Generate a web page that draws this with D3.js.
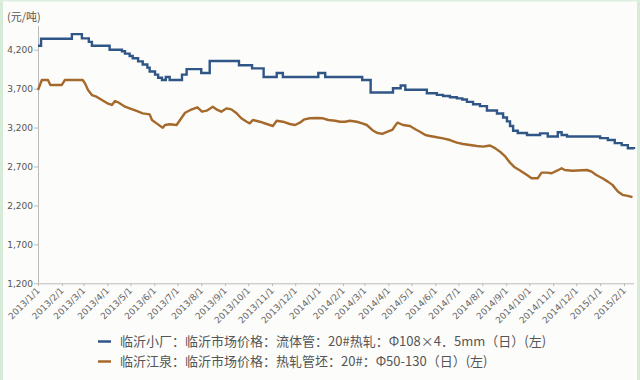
<!DOCTYPE html>
<html><head><meta charset="utf-8">
<script src="https://cdn.jsdelivr.net/npm/d3@7"></script>
<style>
html,body{margin:0;padding:0;background:#fff;}
svg{display:block;}
</style></head>
<body><svg id="c" width="640" height="380"></svg>
<script>
const unitLabel = "(元/吨)";
const yTicks = [1200, 1700, 2200, 2700, 3200, 3700, 4200];
const xTickDates = ["2013-01-01","2013-02-01","2013-03-01","2013-04-01","2013-05-01","2013-06-01","2013-07-01","2013-08-01","2013-09-01","2013-10-01","2013-11-01","2013-12-01","2014-01-01","2014-02-01","2014-03-01","2014-04-01","2014-05-01","2014-06-01","2014-07-01","2014-08-01","2014-09-01","2014-10-01","2014-11-01","2014-12-01","2015-01-01","2015-02-01"];
const seriesNames = ["临沂小厂：临沂市场价格：流体管：20#热轧：Φ108×4．5mm（日）(左)", "临沂江泉：临沂市场价格：热轧管坯：20#：Φ50-130（日）(左)"];

// Series 1 (blue, stepped)
const blueDates = ["2013-01-01","2013-01-05","2013-02-14","2013-02-27","2013-03-08","2013-03-12","2013-04-04","2013-04-20","2013-04-24","2013-04-30","2013-05-04","2013-05-11","2013-05-17","2013-05-23","2013-05-26","2013-06-02","2013-06-06","2013-06-11","2013-06-16","2013-06-21","2013-07-07","2013-07-13","2013-08-01","2013-08-12","2013-09-19","2013-10-06","2013-10-21","2013-11-07","2013-11-15","2013-12-31","2014-01-09","2014-02-26","2014-03-09","2014-04-07","2014-04-17","2014-04-23","2014-05-21","2014-06-03","2014-06-11","2014-06-20","2014-06-29","2014-07-06","2014-07-12","2014-07-20","2014-07-29","2014-08-07","2014-08-20","2014-08-28","2014-09-02","2014-09-06","2014-09-10","2014-09-16","2014-09-28","2014-10-15","2014-10-25","2014-11-07","2014-11-12","2014-11-19","2015-01-01","2015-01-11","2015-01-20","2015-01-29","2015-02-06","2015-02-14"];
const blueValues = [4250,4340,4400,4345,4300,4250,4200,4180,4150,4120,4090,4050,4010,3970,3920,3880,3840,3810,3850,3810,3880,3950,3900,4055,4000,3960,3850,3900,3850,3900,3850,3810,3650,3705,3740,3685,3640,3620,3605,3590,3575,3560,3530,3500,3475,3420,3380,3330,3280,3220,3160,3130,3105,3125,3085,3140,3105,3085,3065,3040,3000,2975,2935,2925];

// Series 2 (orange)
const orangeDates = ["2013-01-01","2013-01-06","2013-01-14","2013-01-17","2013-02-01","2013-02-05","2013-02-28","2013-03-03","2013-03-07","2013-03-12","2013-03-18","2013-03-25","2013-04-01","2013-04-07","2013-04-11","2013-04-15","2013-04-24","2013-04-30","2013-05-09","2013-05-17","2013-05-26","2013-05-29","2013-06-04","2013-06-12","2013-06-15","2013-06-21","2013-06-30","2013-07-04","2013-07-11","2013-07-18","2013-07-27","2013-08-02","2013-08-08","2013-08-16","2013-08-22","2013-08-27","2013-09-03","2013-09-09","2013-09-16","2013-09-22","2013-09-29","2013-10-03","2013-10-07","2013-10-16","2013-10-25","2013-11-02","2013-11-07","2013-11-15","2013-11-24","2013-12-01","2013-12-07","2013-12-13","2013-12-20","2013-12-29","2014-01-06","2014-01-13","2014-01-22","2014-01-28","2014-02-04","2014-02-10","2014-02-19","2014-02-26","2014-03-04","2014-03-11","2014-03-17","2014-03-24","2014-03-31","2014-04-06","2014-04-12","2014-04-13","2014-04-20","2014-04-29","2014-05-06","2014-05-12","2014-05-19","2014-05-25","2014-06-03","2014-06-11","2014-06-20","2014-06-29","2014-07-07","2014-07-16","2014-07-25","2014-08-02","2014-08-11","2014-08-18","2014-08-24","2014-08-31","2014-09-06","2014-09-12","2014-09-18","2014-09-28","2014-10-04","2014-10-12","2014-10-17","2014-10-24","2014-10-30","2014-11-06","2014-11-12","2014-11-16","2014-11-26","2014-12-15","2014-12-21","2014-12-27","2015-01-04","2015-01-11","2015-01-17","2015-01-24","2015-01-30","2015-02-06","2015-02-12"];
const orangeValues = [3683,3811,3811,3747,3747,3811,3811,3769,3683,3618,3597,3554,3512,3490,3541,3525,3468,3447,3413,3383,3370,3297,3254,3198,3233,3242,3233,3290,3390,3426,3460,3404,3417,3468,3426,3404,3447,3434,3383,3319,3275,3254,3297,3275,3246,3220,3288,3275,3246,3233,3263,3306,3319,3323,3319,3297,3288,3275,3275,3288,3275,3254,3233,3169,3134,3118,3147,3169,3254,3263,3233,3220,3178,3147,3105,3092,3075,3062,3040,3006,2989,2976,2963,2955,2970,2933,2890,2826,2749,2690,2655,2591,2549,2549,2621,2621,2613,2646,2677,2655,2646,2655,2634,2591,2549,2506,2464,2378,2336,2323,2306];

const colors = ["#2f5687", "#a5692b"];

const parse = d3.utcParse("%Y-%m-%d");
const svg = d3.select("#c");
const W = 640, H = 380;

// background + frame
svg.append("rect").attr("x",0).attr("y",0).attr("width",W).attr("height",H).attr("fill","#fcfcfa");
svg.append("rect").attr("x",0).attr("y",0).attr("width",3).attr("height",H).attr("fill","#d6ecd9");
svg.append("rect").attr("x",637).attr("y",0).attr("width",3).attr("height",H).attr("fill","#d6ecd9");
svg.append("rect").attr("x",0).attr("y",0).attr("width",W).attr("height",1.5).attr("fill","#dcefe0");

const x = d3.scaleUtc().domain([parse("2013-01-01"), parse("2015-02-01")]).range([38, 624]);
const y = d3.scaleLinear().domain([1200, 4200]).range([283.3, 49.7]);

const tickFont = "DejaVu Sans, Verdana, sans-serif";

// Y axis
const yAxis = d3.axisLeft(y).tickValues(yTicks).tickSize(4).tickFormat(d3.format(","));
const gy = svg.append("g").attr("transform","translate(38,0)").call(yAxis);
gy.select(".domain").remove();
gy.selectAll(".tick line").attr("stroke","#bbb");
gy.selectAll(".tick text").attr("font-family",tickFont).attr("font-size",9).attr("fill","#555").attr("x",-5);
svg.append("line").attr("x1",38.5).attr("x2",38.5).attr("y1",26).attr("y2",283.3).attr("stroke","#bbb");

// X axis
const xAxis = d3.axisBottom(x).tickValues(xTickDates.map(parse)).tickSize(3)
  .tickFormat(d3.utcFormat("%Y/%-m/%-d"));
const gx = svg.append("g").attr("transform","translate(0,283.3)").call(xAxis);
gx.select(".domain").remove();
svg.append("line").attr("x1",38).attr("x2",634).attr("y1",283.8).attr("y2",283.8).attr("stroke","#bbb");
gx.selectAll(".tick line").attr("stroke","#bbb");
gx.selectAll(".tick text").attr("font-family",tickFont).attr("font-size",9).attr("fill","#666")
  .attr("text-anchor","end").attr("dy",0).attr("y",0)
  .attr("transform","translate(2,8) rotate(-45)");

// unit label
svg.append("text").attr("x",7).attr("y",21).attr("font-family","Noto Sans CJK SC, sans-serif")
  .attr("font-size",11).attr("fill","#555").text(unitLabel);

// lines
const blue = blueDates.map((d,i)=>({d:parse(d), v:blueValues[i]}));
const orange = orangeDates.map((d,i)=>({d:parse(d), v:orangeValues[i]}));

svg.append("path").datum(orange).attr("fill","none").attr("stroke",colors[1]).attr("stroke-width",2.4)
  .attr("stroke-linejoin","round")
  .attr("d", d3.line().x(p=>x(p.d)).y(p=>y(p.v)).curve(d3.curveLinear));
svg.append("path").datum(blue).attr("fill","none").attr("stroke",colors[0]).attr("stroke-width",2.4)
  .attr("d", d3.line().x(p=>x(p.d)).y(p=>y(p.v)).curve(d3.curveStepAfter));

// legend
const lg = svg.append("g");
seriesNames.forEach((name,i)=>{
  const yy = 341.5 + i*20;
  lg.append("line").attr("x1",98).attr("x2",111).attr("y1",yy).attr("y2",yy)
    .attr("stroke",colors[i]).attr("stroke-width",2.5);
  lg.append("text").attr("x",120).attr("y",yy).attr("dy","0.36em")
    .attr("font-family","Noto Sans CJK SC, sans-serif").attr("font-size",13).attr("fill","#555").text(name);
});
</script></body></html>
